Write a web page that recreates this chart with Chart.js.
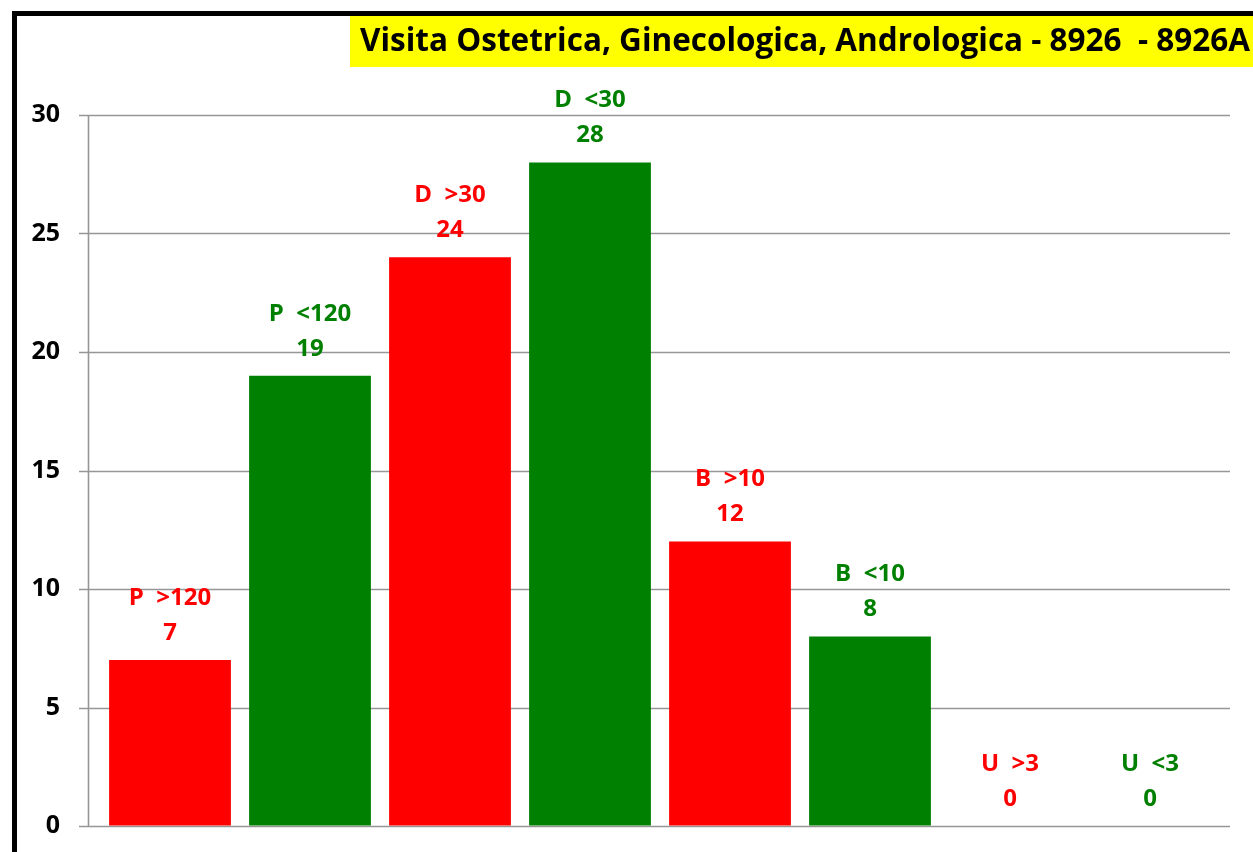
<!DOCTYPE html>
<html>
<head>
<meta charset="utf-8">
<script src="https://cdn.jsdelivr.net/npm/chart.js@4/dist/chart.umd.min.js"></script>
<style>
  html, body { margin: 0; padding: 0; background: #ffffff; overflow: hidden; }
  #wrap { position: relative; width: 1253px; height: 852px; }
  #frame { position: absolute; left: 12px; top: 11px; width: 1300px; height: 900px;
           border-left: 5px solid #000; border-top: 5px solid #000; box-sizing: border-box; }
  #c { position: absolute; left: 0; top: 0; }
</style>
</head>
<body>
<div id="wrap">
  <div id="frame"></div>
  <canvas id="c" width="1253" height="852"></canvas>
</div>
<script>
const categories = ["P  >120", "P  <120", "D  >30", "D  <30", "B  >10", "B  <10", "U  >3", "U  <3"];
const values = [7, 19, 24, 28, 12, 8, 0, 0];
const barColors = ["#ff0000", "#008000", "#ff0000", "#008000", "#ff0000", "#008000", "#ff0000", "#008000"];
const titleText = "Visita Ostetrica, Ginecologica, Andrologica - 8926  - 8926A";
const yTicks = [0, 5, 10, 15, 20, 25, 30];

const FONT = "'Open Sans', 'DejaVu Sans', sans-serif";

const decorPlugin = {
  id: 'decor',
  beforeDatasetsDraw(chart) {
    const ctx = chart.ctx;
    const ys = chart.scales.y;
    const area = chart.chartArea;
    ctx.save();
    ctx.strokeStyle = '#969696';
    ctx.lineWidth = 1.6;
    yTicks.forEach(v => {
      const y = Math.round(ys.getPixelForValue(v)) + 0.5;
      ctx.beginPath();
      ctx.moveTo(area.left - 21, y);
      ctx.lineTo(area.right + 10, y);
      ctx.stroke();
    });
    const ax = area.left - 12 + 0.5;
    ctx.beginPath();
    ctx.moveTo(ax, ys.getPixelForValue(30));
    ctx.lineTo(ax, ys.getPixelForValue(0));
    ctx.stroke();
    ctx.restore();
  },
  afterDatasetsDraw(chart) {
    const ctx = chart.ctx;
    const meta = chart.getDatasetMeta(0);
    ctx.save();
    ctx.font = "bold 24px " + FONT;
    ctx.textAlign = 'center';
    ctx.textBaseline = 'middle';
    meta.data.forEach((bar, i) => {
      ctx.fillStyle = barColors[i];
      const top = bar.y;
      ctx.fillText(String(values[i]), bar.x, top - 27);
      ctx.fillText(categories[i], bar.x, top - 62);
    });
    ctx.restore();
  },
  afterDraw(chart) {
    const ctx = chart.ctx;
    ctx.save();
    ctx.fillStyle = '#ffff00';
    ctx.fillRect(350, 16, 920, 51);
    ctx.font = "bold 32px " + FONT;
    ctx.textBaseline = 'middle';
    ctx.textAlign = 'left';
    const w = ctx.measureText(titleText).width;
    const target = 890;
    const sx = target / w;
    ctx.translate(360, 42);
    ctx.scale(sx, 1);
    ctx.fillStyle = '#000000';
    ctx.fillText(titleText, 0, 0);
    ctx.restore();
  }
};

new Chart(document.getElementById('c'), {
  type: 'bar',
  data: {
    labels: categories,
    datasets: [{
      data: values,
      backgroundColor: barColors,
      borderWidth: 0,
      categoryPercentage: 1.0,
      barPercentage: 0.87
    }]
  },
  options: {
    responsive: false,
    devicePixelRatio: 1,
    animation: false,
    layout: { padding: { left: 12, top: 115, right: 33, bottom: 26 } },
    plugins: { legend: { display: false }, title: { display: false }, tooltip: { enabled: false } },
    scales: {
      x: { display: false, offset: true },
      y: {
        min: 0, max: 30,
        afterFit(scale) { scale.width = 88; },
        border: { display: false },
        grid: { display: true, color: 'rgba(0,0,0,0)', drawOnChartArea: false, drawTicks: true, tickLength: 40 },
        ticks: {
          stepSize: 5,
          padding: 0,
          color: '#000000',
          font: { family: FONT, size: 25, weight: 'bold' }
        }
      }
    }
  },
  plugins: [decorPlugin]
});
</script>
</body>
</html>
